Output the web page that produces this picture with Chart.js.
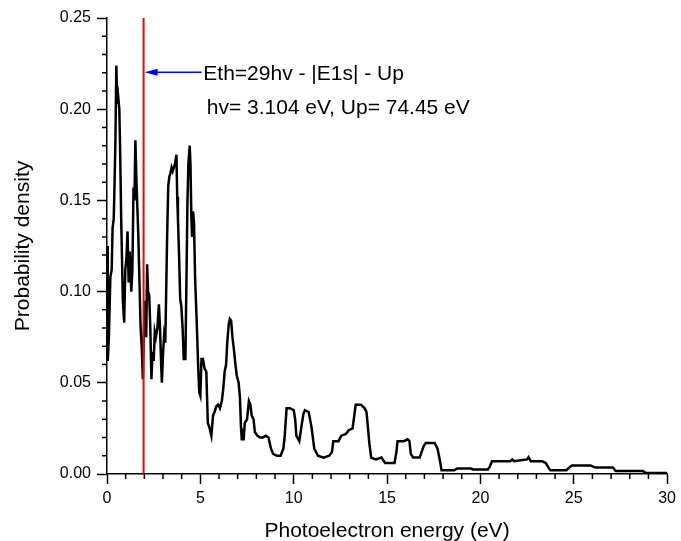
<!DOCTYPE html>
<html>
<head>
<meta charset="utf-8">
<title>Photoelectron spectrum</title>
<script src="https://cdn.jsdelivr.net/npm/chart.js@4.4.1/dist/chart.umd.min.js"></script>
<style>
  html, body { margin: 0; padding: 0; background: #fff; }
  canvas { display: block; }
</style>
</head>
<body>
<canvas id="chart" width="681" height="541"></canvas>
<script>
"use strict";

// photoelectron energy (eV) and probability density
const energy = [
  0.00, 0.04, 0.10, 0.18, 0.25, 0.30, 0.36, 0.40, 0.45, 0.50,
  0.55, 0.60, 0.66, 0.70, 0.76, 0.85, 0.92, 0.98, 1.04, 1.10,
  1.16, 1.22, 1.30, 1.36, 1.42, 1.47, 1.52, 1.58, 1.63, 1.68,
  1.74, 1.80, 1.86, 1.92, 1.98, 2.05, 2.10, 2.15, 2.20, 2.26,
  2.32, 2.38, 2.44, 2.50, 2.56, 2.62, 2.70, 2.78, 2.84, 2.90,
  2.94, 3.00, 3.06, 3.12, 3.17, 3.22, 3.28, 3.34, 3.40, 3.46,
  3.52, 3.58, 3.64, 3.72, 3.76, 3.80, 3.86, 3.92, 3.98, 4.05,
  4.11, 4.20, 4.26, 4.31, 4.36, 4.43, 4.47, 4.52, 4.56, 4.61,
  4.66, 4.72, 4.80, 4.88, 4.94, 5.00, 5.06, 5.14, 5.22, 5.32,
  5.40, 5.50, 5.59, 5.68, 5.76, 5.85, 5.95, 6.05, 6.15, 6.22,
  6.30, 6.38, 6.44, 6.52, 6.58, 6.65, 6.72, 6.80, 6.88, 6.95,
  7.05, 7.12, 7.18, 7.22, 7.32, 7.38, 7.50, 7.60, 7.68, 7.75,
  7.85, 7.92, 8.05, 8.20, 8.35, 8.50, 8.65, 8.78, 8.90, 9.10,
  9.30, 9.45, 9.52, 9.62, 9.80, 10.00, 10.08, 10.14, 10.30, 10.40,
  10.52, 10.60, 10.80, 10.95, 11.10, 11.30, 11.60, 11.90, 12.05, 12.12,
  12.40, 12.55, 12.80, 12.95, 13.15, 13.22, 13.32, 13.60, 13.80, 13.90,
  13.98, 14.05, 14.15, 14.40, 14.70, 14.90, 15.40, 15.50, 15.56, 15.90,
  16.10, 16.20, 16.27, 16.40, 16.75, 16.85, 16.95, 17.07, 17.55, 17.70,
  17.82, 17.92, 18.60, 18.75, 19.50, 19.60, 20.40, 20.50, 20.62, 21.60,
  21.70, 21.80, 22.50, 22.58, 22.70, 23.30, 23.50, 23.65, 23.75, 24.60,
  24.75, 24.90, 25.90, 26.15, 27.10, 27.25, 28.70, 28.85, 30.00
];
const density = [
  0.125, 0.062, 0.075, 0.108, 0.112, 0.135, 0.140, 0.157, 0.182, 0.224,
  0.203, 0.207, 0.200, 0.180, 0.140, 0.095, 0.083, 0.112, 0.118, 0.133,
  0.105, 0.122, 0.100, 0.112, 0.157, 0.150, 0.183, 0.160, 0.145, 0.130,
  0.105, 0.080, 0.070, 0.052, 0.080, 0.095, 0.075, 0.115, 0.100, 0.098,
  0.080, 0.052, 0.067, 0.062, 0.078, 0.075, 0.080, 0.093, 0.080, 0.060,
  0.050, 0.066, 0.076, 0.072, 0.100, 0.130, 0.158, 0.163, 0.165, 0.168,
  0.166, 0.168, 0.170, 0.175, 0.152, 0.140, 0.120, 0.096, 0.092, 0.080,
  0.063, 0.063, 0.110, 0.150, 0.170, 0.180, 0.170, 0.140, 0.130, 0.144,
  0.138, 0.107, 0.085, 0.060, 0.045, 0.043, 0.063, 0.063, 0.058, 0.056,
  0.028, 0.025, 0.021, 0.032, 0.034, 0.037, 0.038, 0.036, 0.040, 0.046,
  0.056, 0.060, 0.072, 0.082, 0.085, 0.084, 0.075, 0.068, 0.060, 0.054,
  0.050, 0.042, 0.025, 0.019, 0.019, 0.028, 0.030, 0.040, 0.038, 0.032,
  0.030, 0.023, 0.021, 0.020, 0.020, 0.021, 0.020, 0.014, 0.011, 0.010,
  0.010, 0.014, 0.021, 0.036, 0.036, 0.035, 0.030, 0.021, 0.018, 0.025,
  0.033, 0.035, 0.034, 0.026, 0.014, 0.010, 0.009, 0.010, 0.012, 0.018,
  0.018, 0.021, 0.022, 0.024, 0.025, 0.030, 0.038, 0.038, 0.036, 0.034,
  0.025, 0.017, 0.009, 0.008, 0.009, 0.006, 0.006, 0.012, 0.018, 0.018,
  0.019, 0.018, 0.011, 0.009, 0.009, 0.012, 0.015, 0.017, 0.017, 0.014,
  0.008, 0.002, 0.002, 0.003, 0.003, 0.0025, 0.0025, 0.004, 0.007, 0.007,
  0.008, 0.007, 0.008, 0.0092, 0.007, 0.007, 0.006, 0.0035, 0.002, 0.002,
  0.0035, 0.0047, 0.0047, 0.0035, 0.0035, 0.0016, 0.0016, 0.0007, 0.0006
];

const xTicks = [0, 5, 10, 15, 20, 25, 30];
const yTicks = [0.00, 0.05, 0.10, 0.15, 0.20, 0.25];

// threshold energy: Eth = 29hv - |E1s| - Up
const hv = 3.104;
const up = 74.45;
const e1s = 13.6057;
const eth = 29 * hv - e1s - up;

const labelLine1 = 'Eth=29hv - |E1s| - Up';
const labelLine2 = 'hv= 3.104 eV, Up= 74.45 eV';

const FONT = '"Liberation Sans", Arial, Helvetica, sans-serif';
Chart.defaults.font.family = FONT;
Chart.defaults.color = '#000';

const points = energy.map((e, i) => ({ x: e, y: density[i] }));

// minor ticks, arrow and the two text lines
const extras = {
  id: 'extras',
  afterDraw(chart) {
    const ctx = chart.ctx;
    const xs = chart.scales.x;
    const ys = chart.scales.y;
    const left = chart.chartArea.left;
    const bottom = chart.chartArea.bottom;

    ctx.save();
    ctx.strokeStyle = '#000';
    ctx.lineWidth = 1.5;
    ctx.beginPath();
    for (let v = 0; v <= 30; v++) {
      if (v % 5 === 0) continue;
      const px = xs.getPixelForValue(v);
      ctx.moveTo(px, bottom);
      ctx.lineTo(px, bottom + 5);
    }
    for (let k = 0; k <= 25; k++) {
      if (k % 5 === 0) continue;
      const py = ys.getPixelForValue(k / 100);
      ctx.moveTo(left, py);
      ctx.lineTo(left - 5, py);
    }
    ctx.stroke();

    // blue arrow pointing at the red line
    const ay = ys.getPixelForValue(0.2202);
    const ax0 = xs.getPixelForValue(5.07);
    const ax1 = xs.getPixelForValue(eth) + 1;
    ctx.strokeStyle = '#0000ff';
    ctx.fillStyle = '#0000ff';
    ctx.lineWidth = 1.5;
    ctx.beginPath();
    ctx.moveTo(ax0, ay);
    ctx.lineTo(ax1 + 10, ay);
    ctx.stroke();
    ctx.beginPath();
    ctx.moveTo(ax1, ay);
    ctx.lineTo(ax1 + 13, ay - 3.5);
    ctx.lineTo(ax1 + 13, ay + 3.5);
    ctx.closePath();
    ctx.fill();

    ctx.fillStyle = '#000';
    ctx.font = '21px ' + FONT;
    ctx.textAlign = 'left';
    ctx.textBaseline = 'middle';
    ctx.fillText(labelLine1, xs.getPixelForValue(5.16), ys.getPixelForValue(0.2194));
    ctx.fillText(labelLine2, xs.getPixelForValue(5.34), ys.getPixelForValue(0.2003));
    ctx.restore();
  }
};

const ctx = document.getElementById('chart').getContext('2d');
const chart = new Chart(ctx, {
  type: 'line',
  data: {
    datasets: [
      {
        label: 'Eth',
        data: [{ x: eth, y: 0 }, { x: eth, y: 0.25 }],
        borderColor: '#ff0000',
        borderWidth: 2,
        pointRadius: 0
      },
      {
        label: 'Probability density',
        data: points,
        borderColor: '#000',
        borderWidth: 2.5,
        pointRadius: 0,
        tension: 0
      }
    ]
  },
  options: {
    responsive: false,
    animation: false,
    events: [],
    layout: { padding: { top: 18, right: 12, left: 0, bottom: 0 } },
    plugins: {
      legend: { display: false },
      tooltip: { enabled: false }
    },
    scales: {
      x: {
        type: 'linear',
        min: 0,
        max: 30,
        afterBuildTicks: scale => { scale.ticks = xTicks.map(v => ({ value: v })); },
        afterFit: scale => { scale.height = 67; },
        ticks: {
          font: { size: 16 },
          color: '#000',
          padding: 5,
          maxRotation: 0,
          autoSkip: false
        },
        grid: {
          drawOnChartArea: false,
          tickLength: 10,
          tickColor: '#000',
          tickWidth: 1.5
        },
        border: { color: '#000', width: 1.5 },
        title: {
          display: true,
          text: 'Photoelectron energy (eV)',
          font: { size: 21 },
          color: '#000',
          padding: { top: 0, bottom: -3 }
        }
      },
      y: {
        min: 0,
        max: 0.25,
        afterBuildTicks: scale => { scale.ticks = yTicks.map(v => ({ value: v })); },
        afterFit: scale => { scale.width = 107; },
        ticks: {
          font: { size: 16 },
          color: '#000',
          padding: 6,
          callback: v => v.toFixed(2)
        },
        grid: {
          drawOnChartArea: false,
          tickLength: 10,
          tickColor: '#000',
          tickWidth: 1.5
        },
        border: { color: '#000', width: 1.5 },
        title: {
          display: true,
          text: 'Probability density',
          font: { size: 21 },
          color: '#000',
          padding: { top: 11, bottom: 0 }
        }
      }
    }
  },
  plugins: [extras]
});
</script>
</body>
</html>
